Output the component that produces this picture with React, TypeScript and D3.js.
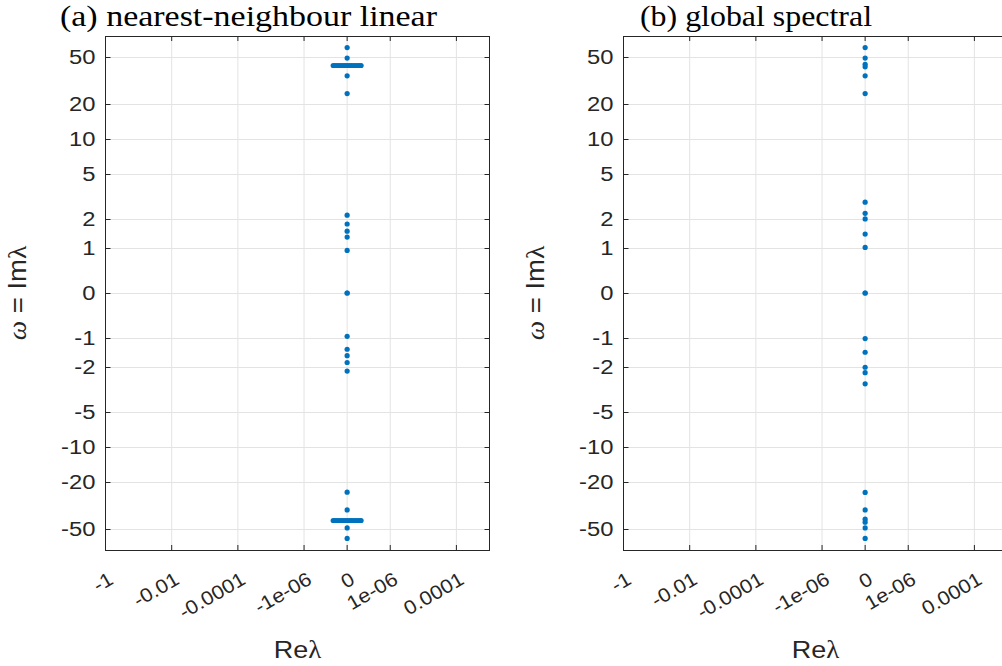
import React from "react";
import * as d3 from "d3";

// ---- data ----
const xTickValues = [-1, -0.01, -0.0001, -1e-6, 0, 1e-6, 0.0001];
const xTickLabels = ["-1", "-0.01", "-0.0001", "-1e-06", "0", "1e-06", "0.0001"];
const yTickValues = [-50, -20, -10, -5, -2, -1, 0, 1, 2, 5, 10, 20, 50];
const yTickLabels = ["-50", "-20", "-10", "-5", "-2", "-1", "0", "1", "2", "5", "10", "20", "50"];

// panel (a): eigenvalues on the imaginary axis
const imA = [59.9, 48.8, 34.5, 24.4, 2.17, 1.79, 1.52, 1.32, 0.93, 0, 0, -0.95, -1.33, -1.55, -1.81, -2.18, -24.3, -34.3, -48.8, -59.9];
// panel (a): cluster near Im = ±42 with small real parts
const bandIm = [42.2, -42.2];
const bandRe = [-1.13e-7, -9.5e-8, -7.7e-8, -5.9e-8, -4.3e-8, -2.8e-8, -1.4e-8, 0, 1.4e-8, 2.8e-8, 4.3e-8, 5.9e-8, 7.7e-8, 9.5e-8, 1.13e-7];
// panel (b)
const imB = [59.9, 48.8, 43.2, 41.1, 34.5, 24.4, 2.85, 2.26, 2.0, 1.42, 1.01, 0, 0, -1.01, -1.43, -2.01, -2.26, -2.85, -24.4, -34.3, -41.1, -43.6, -48.8, -59.9];

const titles = ["(a) nearest-neighbour linear", "(b) global spectral"];

const W = 1002, H = 666;
const PLOT_W = 384;
const TOP = 36, BOTTOM = 550;
const LEFTS = [105.5, 623.5];
const BLUE = "#0072BD";
const AX = "#262626";
const GRID = "#e3e3e3";
const SANS = "'Liberation Sans', Arial, Helvetica, sans-serif";
const SERIF = "'Liberation Serif', 'Times New Roman', serif";
const TICK_FS = 19.5;
const SY = 1.22; // horizontal stretch of y tick labels
const SX = 1.1; // stretch of x tick labels

const tx = (v: number) => Math.asinh(v / 1e-7);
const ty = (v: number) => Math.asinh(v);

function Panel({ idx }: { idx: number }) {
  const x0 = LEFTS[idx];
  const xs = d3.scaleLinear().domain([tx(-1), tx(1e-3)]).range([x0, x0 + PLOT_W]);
  const ys = d3.scaleLinear().domain([ty(-75), ty(75)]).range([BOTTOM, TOP]);
  const X = (v: number) => xs(tx(v));
  const Y = (v: number) => ys(ty(v));

  const pts: [number, number][] = [];
  if (idx === 0) {
    imA.forEach((im) => pts.push([0, im]));
    bandIm.forEach((im) => bandRe.forEach((re) => pts.push([re, im])));
  } else {
    imB.forEach((im) => pts.push([0, im]));
  }

  const tickLen = 5;
  const cx = x0 + PLOT_W / 2;
  const ylx = x0 - 80;

  return (
    <g>
      {/* grid */}
      {xTickValues.map((v, i) => (
        <line key={"gx" + i} x1={X(v)} x2={X(v)} y1={TOP} y2={BOTTOM} stroke={GRID} strokeWidth={1} />
      ))}
      {yTickValues.map((v, i) => (
        <line key={"gy" + i} x1={x0} x2={x0 + PLOT_W} y1={Math.round(Y(v)) + 0.5} y2={Math.round(Y(v)) + 0.5} stroke={GRID} strokeWidth={1} />
      ))}
      {/* ticks */}
      {xTickValues.map((v, i) => (
        <g key={"tx" + i}>
          <line x1={X(v)} x2={X(v)} y1={BOTTOM} y2={BOTTOM - tickLen} stroke={AX} />
          <line x1={X(v)} x2={X(v)} y1={TOP} y2={TOP + tickLen} stroke={AX} />
        </g>
      ))}
      {yTickValues.map((v, i) => {
        const y = Math.round(Y(v)) + 0.5;
        return (
          <g key={"ty" + i}>
            <line x1={x0} x2={x0 + tickLen} y1={y} y2={y} stroke={AX} />
            <line x1={x0 + PLOT_W} x2={x0 + PLOT_W - tickLen} y1={y} y2={y} stroke={AX} />
          </g>
        );
      })}
      {/* points */}
      {pts.map((p, i) => (
        <circle key={"p" + i} cx={X(p[0])} cy={Y(p[1])} r={2.6} fill={BLUE} />
      ))}
      {/* box */}
      <rect x={x0} y={TOP + 0.5} width={PLOT_W} height={BOTTOM - TOP} fill="none" stroke={AX} strokeWidth={1} />
      {/* y tick labels */}
      {yTickValues.map((v, i) => (
        <text key={"yl" + i} transform={`translate(${x0 - 10},${Y(v)}) scale(${SY},1)`} dy="0.36em" textAnchor="end" fontFamily={SANS} fontSize={TICK_FS} fill={AX}>
          {yTickLabels[i]}
        </text>
      ))}
      {/* x tick labels */}
      {xTickValues.map((v, i) => {
        const px = X(v) + 9;
        const py = BOTTOM + 33;
        return (
          <text key={"xl" + i} transform={`translate(${px},${py}) rotate(-30) scale(${SX},1)`} textAnchor="end" fontFamily={SANS} fontSize={TICK_FS} fill={AX}>
            {xTickLabels[i]}
          </text>
        );
      })}
      {/* x label */}
      <text transform={`translate(${cx},658) scale(1.1,1)`} textAnchor="middle" fontSize={24.5} fill={AX}>
        <tspan fontFamily={SANS}>Re</tspan>
        <tspan fontFamily={SERIF}>λ</tspan>
      </text>
      {/* y label */}
      <text transform={`translate(${ylx},293) rotate(-90) scale(1.1,1)`} textAnchor="middle" fontSize={25} fill={AX}>
        <tspan fontFamily={SERIF} fontStyle="italic">ω</tspan>
        <tspan fontFamily={SANS}> = Im</tspan>
        <tspan fontFamily={SERIF}>λ</tspan>
      </text>
    </g>
  );
}

export default function App() {
  return (
    <svg width={W} height={H} style={{ position: "absolute", left: 0, top: 0, background: "#fff" }}>
      <rect x={0} y={0} width={W} height={H} fill="#fff" />
      <Panel idx={0} />
      <Panel idx={1} />
      <text x={60} y={26} fontFamily={SERIF} fontSize={29} fill="#000" textLength={377} lengthAdjust="spacingAndGlyphs">
        {titles[0]}
      </text>
      <text x={640} y={26} fontFamily={SERIF} fontSize={29} fill="#000" textLength={232} lengthAdjust="spacingAndGlyphs">
        {titles[1]}
      </text>
    </svg>
  );
}
